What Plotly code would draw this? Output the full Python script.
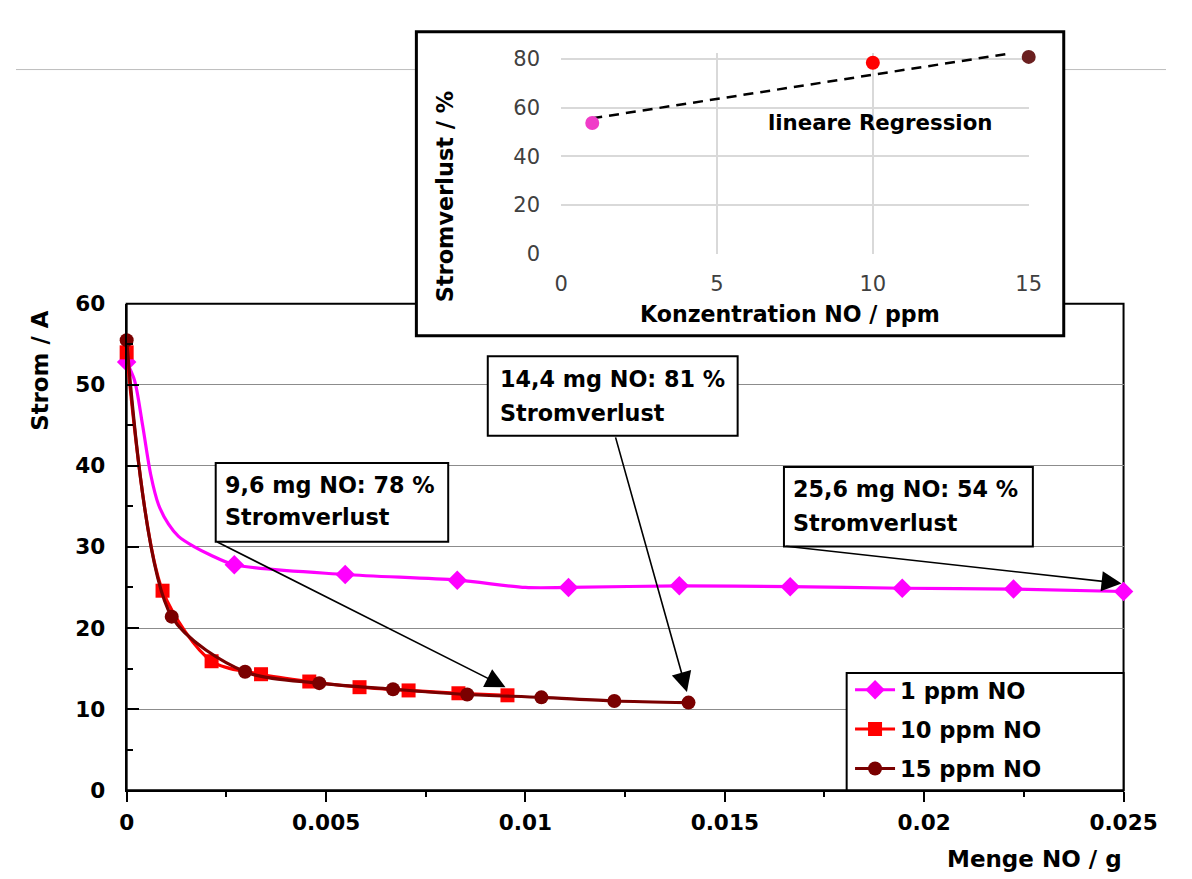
import plotly.graph_objects as go

# ---------------- data ----------------
ppm1_x = [0.0, 0.0027, 0.00548, 0.00829, 0.01108, 0.01386, 0.01664, 0.01945, 0.02224, 0.025]
ppm1_y = [52.8, 27.8, 26.6, 25.9, 25.0, 25.2, 25.1, 24.9, 24.8, 24.5]
# unmarked points along the smoothed 1 ppm curve
ppm1_extra_x = [0.0002, 0.0004, 0.0006, 0.0008, 0.00105, 0.0013, 0.0017, 0.0021, 0.0100]
ppm1_extra_y = [50.5, 45.0, 39.0, 35.2, 32.8, 31.3, 30.0, 29.0, 25.0]

ppm10_x = [0.0, 0.0009, 0.00213, 0.00337, 0.00458, 0.00584, 0.00707, 0.00832, 0.00955]
ppm10_y = [54.0, 24.6, 15.9, 14.3, 13.4, 12.7, 12.3, 11.95, 11.7]

ppm15_x = [0.0, 0.00113, 0.00297, 0.00483, 0.00668, 0.00854, 0.0104, 0.01223, 0.01409]
ppm15_y = [55.5, 21.4, 14.6, 13.2, 12.45, 11.8, 11.45, 11.0, 10.8]

series_names = ["1 ppm NO", "10 ppm NO", "15 ppm NO"]

x_tickvals = [0, 0.005, 0.01, 0.015, 0.02, 0.025]
x_ticktext = ["0", "0.005", "0.01", "0.015", "0.02", "0.025"]
y_tickvals = [0, 10, 20, 30, 40, 50, 60]

# inset: current loss vs concentration
inset_conc = [1, 10, 15]
inset_loss = [53.7, 78.4, 80.8]
reg_x = [1, 14.4]
reg_y = [55.6, 82.2]

box_lines = [
    ("9,6 mg NO: 78 %", "Stromverlust"),
    ("14,4 mg NO: 81 %", "Stromverlust"),
    ("25,6 mg NO: 54 %", "Stromverlust"),
]

# ---------------- layout helpers ----------------
W, H = 1192, 879
FONT = "DejaVu Sans"


def PX(p):
    return p / W


def PY(p):
    return 1 - p / H


MAGENTA = "#ff00ff"
RED = "#ff0000"
DARK = "#7a0000"


def merged(xs, ys, ex, ey):
    pts = sorted(list(zip(xs, ys)) + list(zip(ex, ey)))
    return [p[0] for p in pts], [p[1] for p in pts]


fig = go.Figure()

c1x, c1y = merged(ppm1_x, ppm1_y, ppm1_extra_x, ppm1_extra_y)

series = [
    (c1x, c1y, ppm1_x, ppm1_y, MAGENTA, "diamond", 15, series_names[0]),
    (ppm10_x, ppm10_y, ppm10_x, ppm10_y, RED, "square", 14, series_names[1]),
    (ppm15_x, ppm15_y, ppm15_x, ppm15_y, DARK, "circle", 14, series_names[2]),
]

for i, (lx, ly, mx, my, col, sym, sz, name) in enumerate(series):
    fig.add_trace(go.Scatter(
        x=lx, y=ly, mode="lines", line=dict(color=col, width=3.2, shape="spline", smoothing=0.8),
        showlegend=False, cliponaxis=False, hoverinfo="skip", xaxis="x", yaxis="y"))
    fig.add_trace(go.Scatter(
        x=mx, y=my, mode="markers", marker=dict(color=col, symbol=sym, size=sz, line=dict(width=0)),
        showlegend=False, cliponaxis=False, xaxis="x", yaxis="y"))
    # legend entry
    fig.add_trace(go.Scatter(
        x=[None], y=[None], mode="lines+markers", name=name, legendgroup=f"g{i}",
        line=dict(color=col, width=3), marker=dict(color=col, symbol=sym, size=sz),
        xaxis="x", yaxis="y"))

# inset traces
inset_cols = ["#f03cc8", "#ff0000", "#6b2020"]
fig.add_trace(go.Scatter(
    x=reg_x, y=reg_y, mode="lines", line=dict(color="black", width=2.5, dash="10px,7px"),
    showlegend=False, xaxis="x2", yaxis="y2", cliponaxis=False))
fig.add_trace(go.Scatter(
    x=inset_conc, y=inset_loss, mode="markers",
    marker=dict(color=inset_cols, size=14, symbol="circle"),
    showlegend=False, xaxis="x2", yaxis="y2", cliponaxis=False))

# ---------------- shapes ----------------
shapes = [
    dict(type="line", xref="paper", yref="paper", x0=0, x1=1, y0=PY(51), y1=PY(51),
         line=dict(color="#bdbdbd", width=1), layer="below"),
    dict(type="rect", xref="paper", yref="paper", x0=PX(114.7), x1=PX(1148), y0=PY(792.7), y1=PY(292),
         line=dict(color="black", width=2), layer="below"),
    dict(type="rect", xref="paper", yref="paper", x0=PX(415), x1=PX(1086), y0=PY(325), y1=PY(12),
         line=dict(color="black", width=3), fillcolor="white", layer="below"),
    dict(type="rect", xref="paper", yref="paper", x0=PX(861), x1=PX(1148), y0=PY(792.7), y1=PY(672),
         line=dict(color="black", width=2), fillcolor="white", layer="above"),
]

# callout boxes (x0, y0, x1, y1, text left, line1 y, line2 y)
boxes = [
    (207, 456, 448, 537, 215, 479, 512),
    (489, 346, 748, 428, 500, 370, 404),
    (796, 460, 1054, 542, 803, 483, 518),
]
for (x0, y0, x1, y1, *_r) in boxes:
    shapes.append(dict(type="rect", xref="paper", yref="paper", x0=PX(x0), x1=PX(x1), y0=PY(y1), y1=PY(y0),
                       line=dict(color="black", width=2), fillcolor="white", layer="above"))

# ---------------- annotations ----------------
bold_box = dict(family=FONT, size=22.3, color="black", weight="bold")
annos = []

for (bx, lines) in zip(boxes, box_lines):
    tx, l1, l2 = bx[4], bx[5], bx[6]
    for txt, ly in zip(lines, (l1, l2)):
        annos.append(dict(xref="paper", yref="paper", x=PX(tx), y=PY(ly), xanchor="left", yanchor="middle",
                          text=txt, showarrow=False, font=bold_box))

arrows = [
    (0.002235, 30.7, 0.0095, 12.7),
    (0.01225, 43.7, 0.01405, 12.1),
    (0.0165, 30.1, 0.02495, 25.5),
]
for (ax, ay, hx, hy) in arrows:
    annos.append(dict(
        xref="x", yref="y", axref="x", ayref="y", x=hx, y=hy, ax=ax, ay=ay,
        text="", showarrow=True, arrowhead=2, arrowsize=2.5, arrowwidth=1.6,
        arrowcolor="black", standoff=0, startstandoff=0))

annos.append(dict(xref="paper", yref="paper", x=PX(25), y=PY(361), text="Strom / A", textangle=-90,
                  showarrow=False, font=dict(family=FONT, size=22.9, color="black", weight="bold"),
                  xanchor="center", yanchor="middle"))
annos.append(dict(xref="paper", yref="paper", x=PX(1148), y=PY(864), text="Menge NO / g",
                  showarrow=False, font=dict(family=FONT, size=23, color="black", weight="bold"),
                  xanchor="right", yanchor="middle"))
annos.append(dict(xref="paper", yref="paper", x=PX(445), y=PY(182), text="Stromverlust / %", textangle=-90,
                  showarrow=False, font=dict(family=FONT, size=22.4, color="black", weight="bold"),
                  xanchor="center", yanchor="middle"))
annos.append(dict(xref="paper", yref="paper", x=PX(802), y=PY(303), text="Konzentration NO / ppm",
                  showarrow=False, font=dict(family=FONT, size=22.1, color="black", weight="bold"),
                  xanchor="center", yanchor="middle"))
annos.append(dict(xref="paper", yref="paper", x=PX(896), y=PY(105), text="lineare Regression",
                  showarrow=False, font=dict(family=FONT, size=21.3, color="black", weight="bold"),
                  xanchor="center", yanchor="middle"))

tick_bold = dict(family=FONT, size=21.6, color="black", weight="bold")
inset_tick = dict(family=FONT, size=21, color="#404040")

fig.update_layout(
    width=W, height=H,
    margin=dict(l=0, r=0, t=0, b=0),
    paper_bgcolor="white", plot_bgcolor="rgba(0,0,0,0)",
    font=dict(family=FONT, color="black"),
    shapes=shapes, annotations=annos,
    showlegend=True,
    legend=dict(
        x=PX(864.5), y=PY(667.5), xanchor="left", yanchor="top",
        bgcolor="rgba(0,0,0,0)", borderwidth=0,
        font=dict(family=FONT, size=22.6, color="black", weight="bold"),
        itemwidth=40, tracegroupgap=7, traceorder="grouped"),
    xaxis=dict(
        domain=[PX(114.7), PX(1148)], range=[0, 0.025], anchor="y",
        tickvals=x_tickvals, ticktext=x_ticktext, ticks="outside", ticklen=10, tickwidth=2,
        tickcolor="black", showline=True, linecolor="black", linewidth=2,
        showgrid=False, zeroline=False, tickfont=tick_bold, ticklabelstandoff=2,
        minor=dict(ticks="outside", ticklen=5, tickwidth=2, tickcolor="black", dtick=0.0025, showgrid=False)),
    yaxis=dict(
        domain=[PY(792.7), PY(292)], range=[0, 60], anchor="x",
        tickvals=y_tickvals, ticks="inside", ticklen=12, tickwidth=2, tickcolor="black",
        showline=True, linecolor="black", linewidth=2,
        showgrid=True, gridcolor="#8c8c8c", gridwidth=1, zeroline=False,
        tickfont=tick_bold, ticklabelstandoff=15,
        minor=dict(ticks="inside", ticklen=6, tickwidth=2, tickcolor="black", dtick=5, showgrid=False)),
    xaxis2=dict(
        domain=[PX(565), PX(1049.7)], range=[0, 15], anchor="y2", dtick=5,
        showgrid=True, gridcolor="#d9d9d9", gridwidth=1.5, zeroline=False, showline=False,
        ticks="", tickfont=inset_tick, ticklabelstandoff=15),
    yaxis2=dict(
        domain=[PY(240.7), PY(33.7)], range=[0, 82.5], anchor="x2", tickvals=[0, 20, 40, 60, 80],
        showgrid=True, gridcolor="#d9d9d9", gridwidth=1.5, zeroline=False, showline=False,
        ticks="", tickfont=inset_tick, ticklabelstandoff=20),
)

fig.write_html("out.html")
